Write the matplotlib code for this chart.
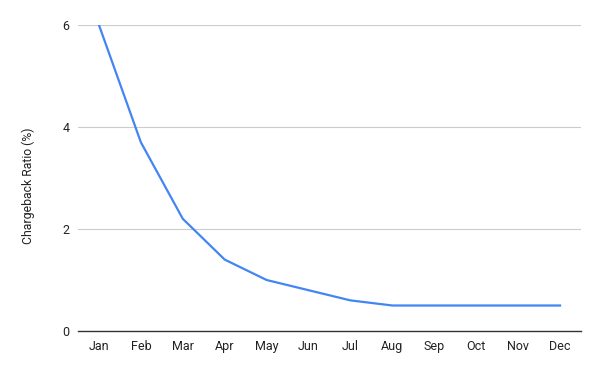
import matplotlib
matplotlib.use("Agg")
import matplotlib.pyplot as plt

months = ["Jan", "Feb", "Mar", "Apr", "May", "Jun", "Jul", "Aug", "Sep", "Oct", "Nov", "Dec"]
ratio = [6.0, 3.7, 2.2, 1.4, 1.0, 0.8, 0.6, 0.5, 0.5, 0.5, 0.5, 0.5]
yticks = [0, 2, 4, 6]

plt.rcParams['font.family'] = ['Roboto', 'DejaVu Sans']

fig = plt.figure(figsize=(6.0, 3.71), dpi=100)
ax = fig.add_axes([78/600, 1 - 331/371, (581-78)/600, (331-25)/371])

x = list(range(len(months)))
ax.plot(x, ratio, color="#4285F4", linewidth=1.6, solid_joinstyle="round", zorder=3)

ax.set_xlim(-0.5, len(months) - 0.5)
ax.set_ylim(0, 6)
ax.set_xticks(x)
ax.set_xticklabels(months)
ax.set_yticks(yticks)
ax.set_yticklabels([str(v) for v in yticks])

for s in ["top", "right", "left"]:
    ax.spines[s].set_visible(False)
ax.spines["bottom"].set_color("#333333")
ax.spines["bottom"].set_linewidth(1.0)
ax.spines["bottom"].set_zorder(4)

ax.grid(axis="y", color="#cccccc", linewidth=0.8)
ax.set_axisbelow(True)
ax.tick_params(axis="both", length=0, labelsize=9, colors="#222222")
ax.tick_params(axis="x", pad=6.5)
ax.tick_params(axis="y", pad=6)

ax.set_ylabel("Chargeback Ratio (%)", fontsize=8.8, color="#222222")
ax.yaxis.set_label_coords(-0.085, 0.474)

fig.savefig("out.png", dpi=100)
